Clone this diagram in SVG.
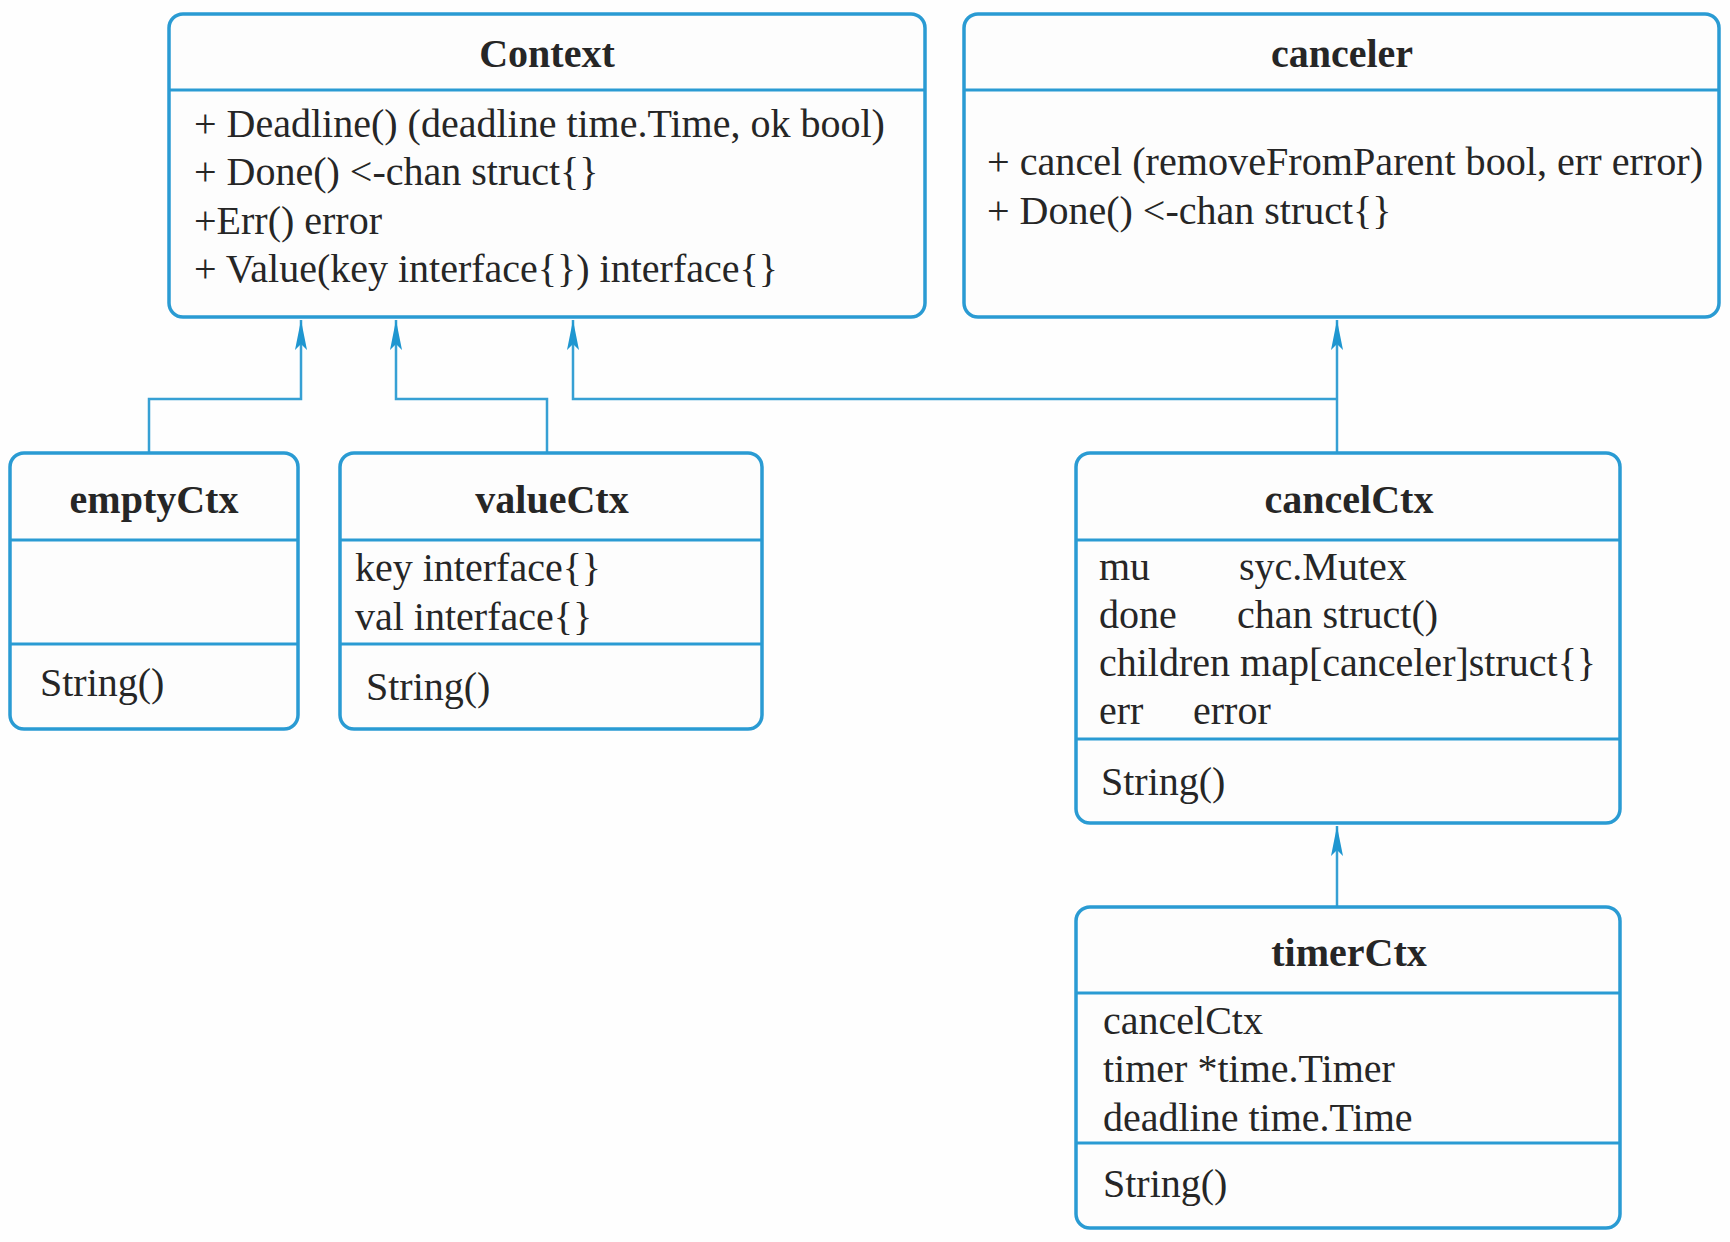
<svg xmlns="http://www.w3.org/2000/svg" width="1730" height="1242" viewBox="0 0 1730 1242">
<style>
.box{fill:#fdfdfd;stroke:#2a9bd3;stroke-width:3.5}
.div{stroke:#2a9bd3;stroke-width:3}
.t{font-family:"Liberation Serif","Times New Roman",serif;font-size:40px;fill:#262626}
.h{font-family:"Liberation Serif","Times New Roman",serif;font-size:40px;font-weight:bold;fill:#262626;text-anchor:middle}
.c{fill:none;stroke:#36a0d4;stroke-width:2.5}
</style>
<defs>
<marker id="arr" viewBox="0 0 30 12" refX="30" refY="6" markerWidth="30" markerHeight="12" markerUnits="userSpaceOnUse" orient="auto">
<path d="M0,0 L30,6 L0,12 L6,6 z" fill="#1f96d0"/>
</marker>
</defs>
<rect width="1730" height="1242" fill="#fefefe"/>

<g id="connectors">
<path class="c" d="M149,453 V399 H301 V320" marker-end="url(#arr)"/>
<path class="c" d="M547,453 V399 H396 V320" marker-end="url(#arr)"/>
<path class="c" d="M1337,399 H573 V320" marker-end="url(#arr)"/>
<path class="c" d="M1337,453 V320" marker-end="url(#arr)"/>
<path class="c" d="M1337,907 V826" marker-end="url(#arr)"/>
</g>

<g id="Context">
<rect class="box" x="169" y="14" width="756" height="303" rx="14"/>
<line class="div" x1="169" y1="90" x2="925" y2="90"/>
<text class="h" x="547" y="67">Context</text>
<text class="t" x="194" y="137">+ Deadline() (deadline time.Time, ok bool)</text>
<text class="t" x="194" y="185">+ Done() &lt;-chan struct{}</text>
<text class="t" x="194" y="234">+Err() error</text>
<text class="t" x="194" y="282">+ Value(key interface{}) interface{}</text>
</g>

<g id="canceler">
<rect class="box" x="964" y="14" width="755" height="303" rx="14"/>
<line class="div" x1="964" y1="90" x2="1719" y2="90"/>
<text class="h" x="1342" y="67">canceler</text>
<text class="t" x="987" y="175" textLength="716" lengthAdjust="spacingAndGlyphs">+ cancel (removeFromParent bool, err error)</text>
<text class="t" x="987" y="224">+ Done() &lt;-chan struct{}</text>
</g>

<g id="emptyCtx">
<rect class="box" x="10" y="453" width="288" height="276" rx="14"/>
<line class="div" x1="10" y1="540" x2="298" y2="540"/>
<line class="div" x1="10" y1="644" x2="298" y2="644"/>
<text class="h" x="154" y="513">emptyCtx</text>
<text class="t" x="40" y="696">String()</text>
</g>

<g id="valueCtx">
<rect class="box" x="340" y="453" width="422" height="276" rx="14"/>
<line class="div" x1="340" y1="540" x2="762" y2="540"/>
<line class="div" x1="340" y1="644" x2="762" y2="644"/>
<text class="h" x="552" y="513">valueCtx</text>
<text class="t" x="355" y="581">key interface{}</text>
<text class="t" x="355" y="630">val interface{}</text>
<text class="t" x="366" y="700">String()</text>
</g>

<g id="cancelCtx">
<rect class="box" x="1076" y="453" width="544" height="370" rx="14"/>
<line class="div" x1="1076" y1="540" x2="1620" y2="540"/>
<line class="div" x1="1076" y1="739" x2="1620" y2="739"/>
<text class="h" x="1349" y="513">cancelCtx</text>
<text class="t" x="1099" y="580">mu</text>
<text class="t" x="1239" y="580">syc.Mutex</text>
<text class="t" x="1099" y="628">done</text>
<text class="t" x="1237" y="628">chan struct()</text>
<text class="t" x="1099" y="676">children map[canceler]struct{}</text>
<text class="t" x="1099" y="724">err</text>
<text class="t" x="1193" y="724">error</text>
<text class="t" x="1101" y="795">String()</text>
</g>

<g id="timerCtx">
<rect class="box" x="1076" y="907" width="544" height="321" rx="14"/>
<line class="div" x1="1076" y1="993" x2="1620" y2="993"/>
<line class="div" x1="1076" y1="1143" x2="1620" y2="1143"/>
<text class="h" x="1349" y="966">timerCtx</text>
<text class="t" x="1103" y="1034">cancelCtx</text>
<text class="t" x="1103" y="1082">timer *time.Timer</text>
<text class="t" x="1103" y="1131">deadline time.Time</text>
<text class="t" x="1103" y="1197">String()</text>
</g>
</svg>
